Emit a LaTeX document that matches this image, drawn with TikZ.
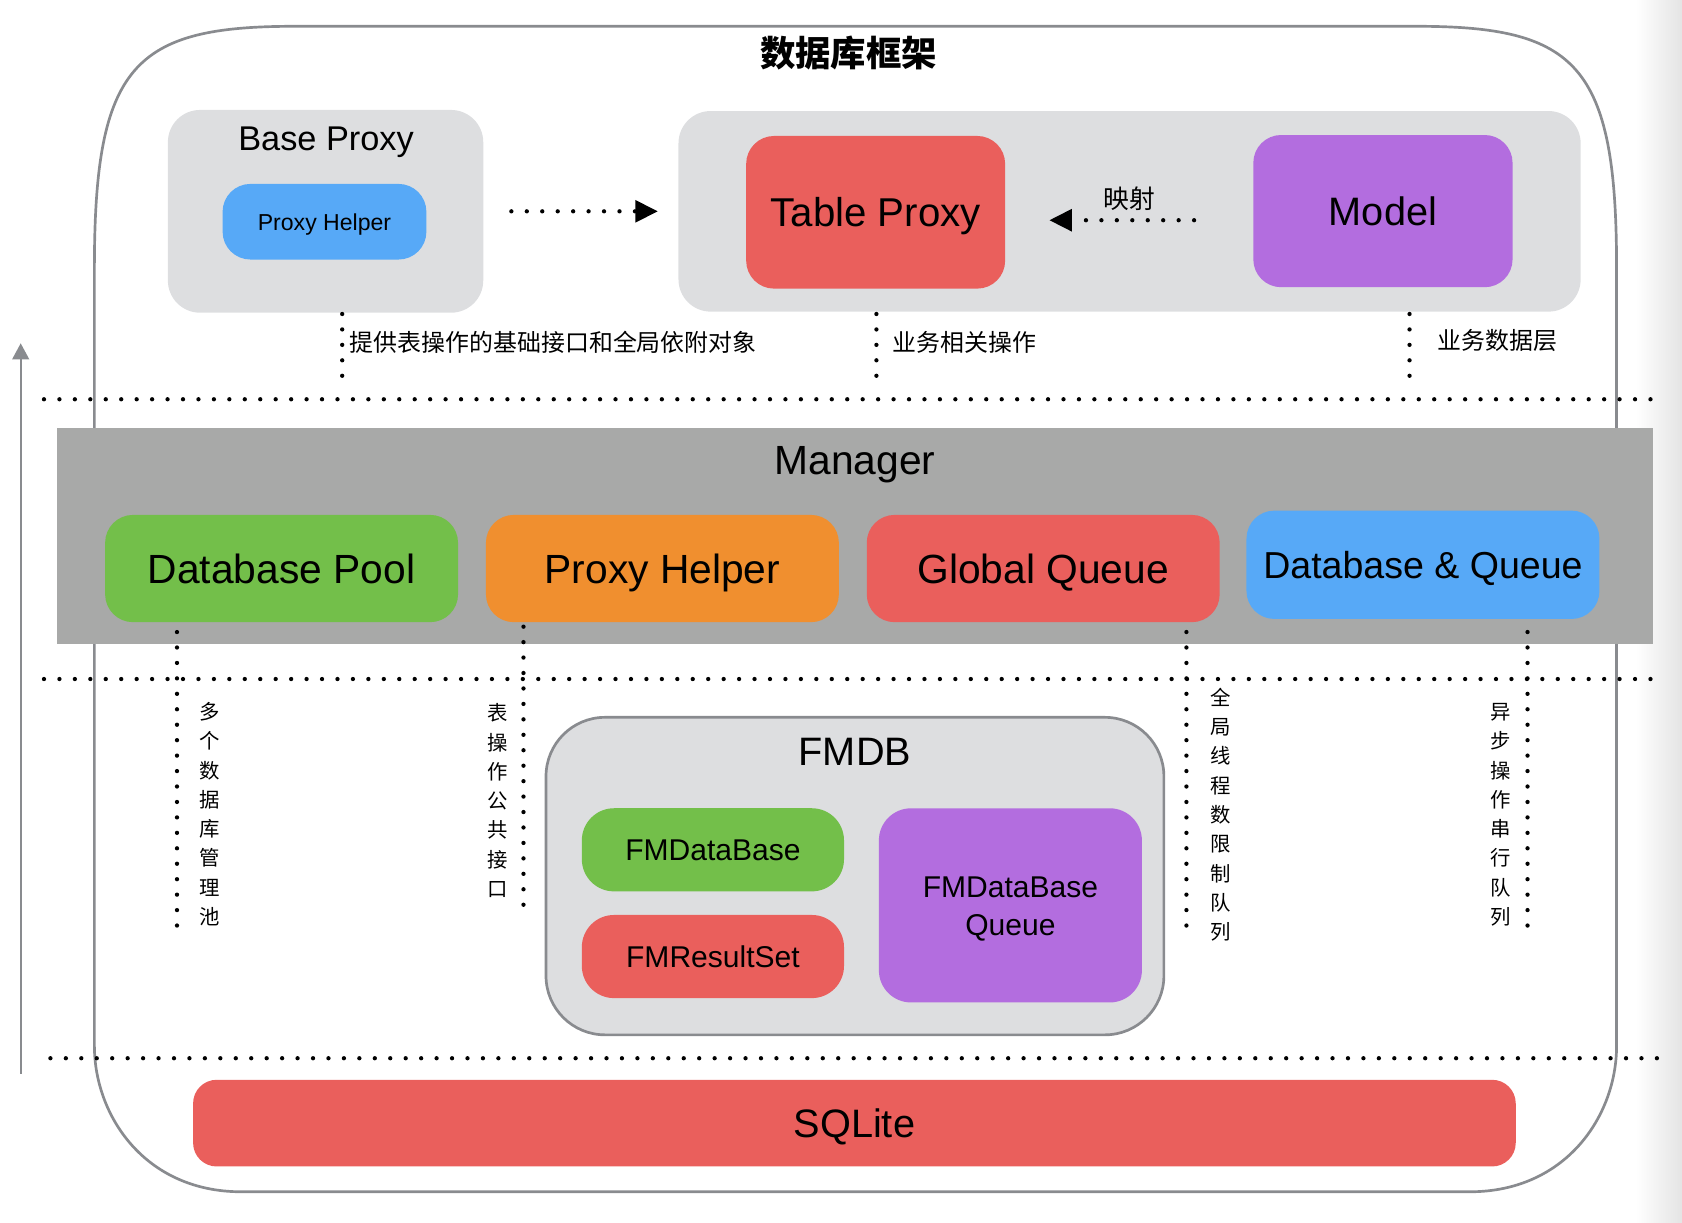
\documentclass[tikz,border=0pt]{standalone}
\usepackage{fontspec}
\setmainfont{Liberation Sans}
\newfontfamily\cjk{Noto Sans CJK SC}
\usetikzlibrary{arrows.meta,calc}

\definecolor{boxgray}{HTML}{DDDEE0}
\definecolor{linegray}{HTML}{898B8F}
\definecolor{mgrgray}{HTML}{A8A9A8}
\definecolor{cred}{HTML}{EA5F5C}
\definecolor{cblue}{HTML}{57A9F7}
\definecolor{cgreen}{HTML}{73BF4A}
\definecolor{corange}{HTML}{F08F2F}
\definecolor{cpurple}{HTML}{B36DDF}
\definecolor{shadegray}{HTML}{E4E4E4}

\tikzset{
	fs/.style={font=\fontsize{#1}{#1}\selectfont, text height=#1*0.72pt, text depth=0pt},
	box/.style={rounded corners=26pt, inner sep=0pt, align=center},
	grp/.style={fill=boxgray, rounded corners=30pt, inner sep=0pt},
	dotline/.style={line width=4pt, line cap=round, dash pattern=on 0pt off 14.4pt},
	tipfill/.style={-{Triangle[length=21pt,width=20pt]}},
	hlabel/.style={anchor=west, inner sep=0pt, font=\cjk\fontsize{22.3}{22.3}\selectfont},
	vlabel/.style={inner sep=0pt, align=center, font=\cjk\fontsize{19}{27.3}\selectfont},
}

\begin{document}
\begin{tikzpicture}[x=1pt, y=-1pt]
		\useasboundingbox (0,0) rectangle (1568,1140);
		\fill[left color=white, right color=shadegray] (1525,0) rectangle (1568,1140);

		% cornice esterna
		\draw[linegray, line width=2.5pt] (275,24.5) -- (1320,24.5) .. controls (1470,24.5) and (1507,60) .. (1507,250)
			-- (1507,975) .. controls (1507,1040) and (1460,1111) .. (1370,1111)
			-- (225,1111) .. controls (135,1111) and (88,1040) .. (88,975)
			-- (88,250) .. controls (88,60) and (125,24.5) .. (275,24.5) -- cycle;
		\node[font=\cjk\bfseries\fontsize{33}{33}\selectfont, inner sep=0pt] (title) at (791,49) {数据库框架};

		% proxy
		\node[grp, minimum width=294, minimum height=189] (baseproxy) at (303.5,197) {};
		\node[fs=32, inner sep=0pt] (baseproxytitle) at (304,129) {Base Proxy};
		\node[box, fill=cblue, minimum width=190, minimum height=70.5, fs=21.5] (helpersmall) at (302.5,206.7) {Proxy Helper};

		\node[grp, minimum width=841, minimum height=187] (tablegroup) at (1053,197) {};
		\node[box, fill=cred, minimum width=241.4, minimum height=142.3, fs=37.5] (tableproxy) at (816.3,197.9) {Table Proxy};
		\node[box, fill=cpurple, minimum width=241.7, minimum height=141.9, fs=37] (model) at (1289.2,196.8) {Model};
		\node[inner sep=0pt, font=\cjk\fontsize{24}{24}\selectfont] (maplabel) at (1053,185.6) {映射};

		\draw[dotline, tipfill] ([xshift=26pt]baseproxy.east) -- ([xshift=-19pt]tablegroup.west);
		\coordinate (map0) at ($(model.west)+(-55,8.5)$);
		\draw[dotline, tipfill] (map0) -- ($(map0 -| tableproxy.east)+(41,0)$);

		\coordinate (lead1) at (319,352);
		\coordinate (lead2) at (817,352);
		\coordinate (lead3) at (1314,352);
		\draw[dotline] ($(lead1 |- baseproxy.south)+(0,1)$) -- (lead1);
		\draw[dotline] ($(lead2 |- tablegroup.south)+(0,2)$) -- (lead2);
		\draw[dotline] ($(lead3 |- tablegroup.south)+(0,2)$) -- (lead3);
		\node[hlabel] (lbl1) at (326,319) {提供表操作的基础接口和全局依附对象};
		\node[hlabel] (lbl2) at (832,319) {业务相关操作};
		\node[hlabel] (lbl3) at (1340,317) {业务数据层};

		% separatori
		\coordinate (sep1a) at (41,372.2);
		\coordinate (sep1b) at (1548,372.2);
		\coordinate (sep2a) at (41,633);
		\coordinate (sep2b) at (1548,633);
		\coordinate (sep3a) at (47,986.5);
		\coordinate (sep3b) at (1550,986.5);

		% manager
		\node[fill=mgrgray, minimum width=1487, minimum height=201, inner sep=0pt] (manager) at (797,499.5) {};
		\node[fs=38, inner sep=0pt] (managertitle) at (797,429) {Manager};
		\node[box, fill=cgreen, minimum width=329, minimum height=100, fs=38] (dbpool) at (262.5,530) {Database Pool};
		\node[box, fill=corange, minimum width=329, minimum height=100, fs=38] (helper) at (617.5,530) {Proxy Helper};
		\node[box, fill=cred, minimum width=329, minimum height=100, fs=38] (gqueue) at (972.5,530) {Global Queue};
		\node[box, fill=cblue, minimum width=329, minimum height=101, fs=35] (dbqueue) at (1326.5,526.5) {Database \& Queue};

		\draw[dotline] (sep1a) -- (sep1b);
		\draw[dotline] (sep2a) -- (sep2b);
		\draw[dotline] (sep3a) -- (sep3b);

		\coordinate (lead4) at (165,863);
		\coordinate (lead5) at (488,844);
		\coordinate (lead6) at (1106,863);
		\coordinate (lead7) at (1424,863);
		\draw[dotline] ($(lead4 |- dbpool.south)+(0,9)$) -- (lead4);
		\draw[dotline] ($(lead5 |- helper.south)+(0,4)$) -- (lead5);
		\draw[dotline] ($(lead6 |- gqueue.south)+(0,9)$) -- (lead6);
		\draw[dotline] ($(lead7 |- dbqueue.south)+(0,12)$) -- (lead7);
		\node[vlabel] (vlbl1) at (195.4,759) {多\\个\\数\\据\\库\\管\\理\\池};
		\node[vlabel] (vlbl2) at (464,746.4) {表\\操\\作\\公\\共\\接\\口};
		\node[vlabel] (vlbl3) at (1137.8,759.5) {全\\局\\线\\程\\数\\限\\制\\队\\列};
		\node[vlabel] (vlbl4) at (1399,759.5) {异\\步\\操\\作\\串\\行\\队\\列};

		% fmdb
		\node[grp, draw=linegray, line width=2.5pt, rounded corners=55pt, minimum width=576, minimum height=296] (fmdb) at (797,816.7) {};
		\node[fs=37, inner sep=0pt] (fmdbtitle) at (797,700) {FMDB};
		\node[box, rounded corners=30pt, fill=cgreen, minimum width=244.4, minimum height=77.5, fs=28] (fmdatabase) at (664.6,792.2) {FMDataBase};
		\node[box, rounded corners=30pt, fill=cred, minimum width=244.4, minimum height=77.5, fs=28] (fmresultset) at (664.6,891.7) {FMResultSet};
		\node[box, rounded corners=30pt, fill=cpurple, minimum width=245.2, minimum height=181, fs=28, font=\fontsize{28}{35.7}\selectfont, text height=55.9pt] (fmqueue) at (941.9,844) {FMDataBase\\Queue};

		% sqlite
		\node[box, rounded corners=22pt, fill=cred, minimum width=1233, minimum height=80.8, fs=37] (sqlite) at (796.5,1047) {SQLite};

		\coordinate (up0) at (19.3,1001);
		\coordinate (up1) at (19.3,320);
		\draw[linegray, line width=2.2pt, -{Triangle[length=15pt,width=15.5pt]}] (up0) -- (up1);
	\end{tikzpicture}
\end{document}
